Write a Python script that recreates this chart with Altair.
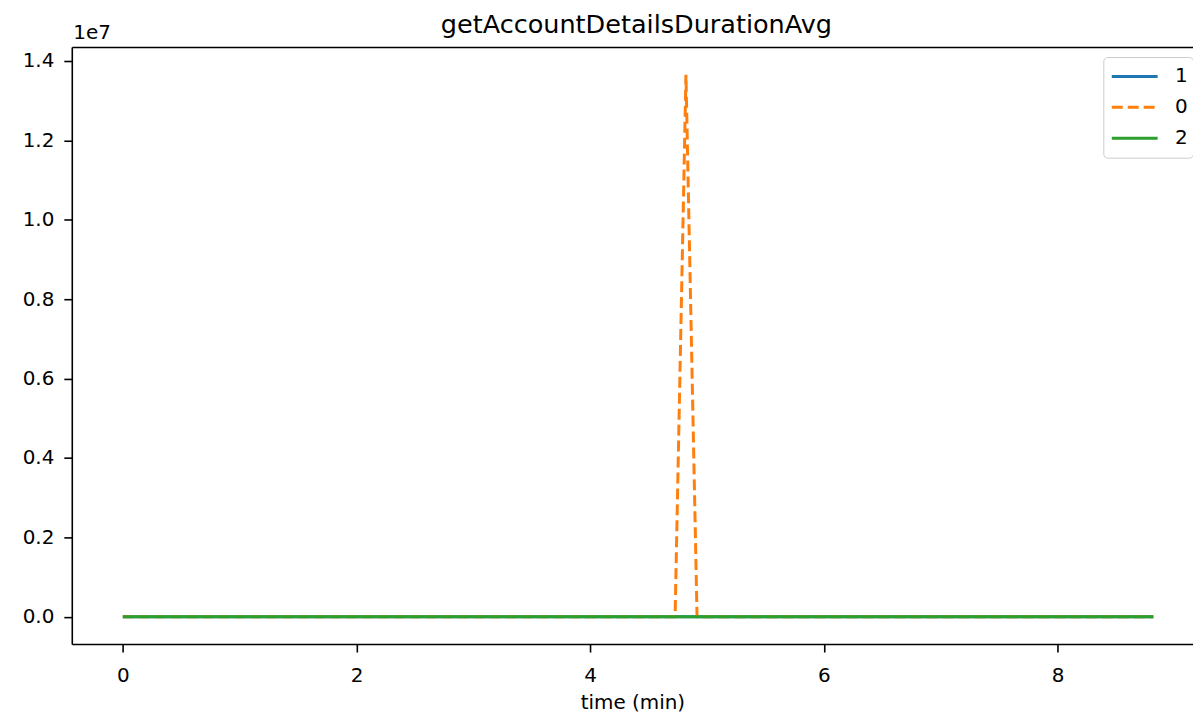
import altair as alt
import pandas as pd

# Series data (time in minutes, value)
series_order = ["1", "0", "2"]
t_s1 = [0.0, 8.82]
v_s1 = [0.0, 0.0]
t_s0 = [0.0, 4.727, 4.82, 4.915, 8.82]
v_s0 = [0.0, 0.0, 1.365e7, 0.0, 0.0]
t_s2 = [0.0, 8.82]
v_s2 = [0.0, 0.0]

x_ticks = [0, 2, 4, 6, 8]
y_ticks = [0, 0.2e7, 0.4e7, 0.6e7, 0.8e7, 1.0e7, 1.2e7, 1.4e7]

rows = []
for name, ts, vs in [("1", t_s1, v_s1), ("0", t_s0, v_s0), ("2", t_s2, v_s2)]:
    for i, (t, v) in enumerate(zip(ts, vs)):
        rows.append({"series": name, "time": t, "value": v, "idx": i})
df = pd.DataFrame(rows)

FONT = "DejaVu Sans"
x_scale = alt.Scale(domain=[-0.437, 9.16], nice=False, zero=False)
y_scale = alt.Scale(domain=[-0.685e6, 1.435e7], nice=False, zero=False)

y_axis = alt.Axis(values=y_ticks, title="1e7",
                  labelExpr="format(datum.value / 1e7, '.1f')",
                  grid=False, tickSize=8, tickWidth=1.6, domainWidth=1.6,
                  domainColor="black", tickColor="black",
                  labelFontSize=20, labelPadding=10, labelFont=FONT,
                  labelColor="black", titleColor="black",
                  titleFont=FONT, titleFontSize=20, titleFontWeight="normal",
                  titleAngle=0, titleX=1, titleY=-9, titleAlign="left",
                  titleBaseline="alphabetic")

legend_kw = dict(title=None, orient="none", legendX=1035, legendY=10,
                 symbolType="stroke", symbolSize=2116, symbolStrokeWidth=3,
                 symbolOffset=2, labelFontSize=20, labelFont=FONT,
                 labelColor="black", labelOffset=16, padding=5, cornerRadius=4,
                 strokeColor="#cccccc", fillColor="white", rowPadding=2,
                 clipHeight=29)

lines = alt.Chart(df).mark_line(strokeWidth=3, strokeCap="butt").encode(
    x=alt.X("time:Q", scale=x_scale,
            axis=alt.Axis(values=x_ticks, title="time (min)", format="d",
                          grid=False, tickSize=8, tickWidth=1.6, domainWidth=1.6,
                          domainColor="black", tickColor="black",
                          labelFontSize=20, titleFontSize=20, labelPadding=14,
                          titlePadding=7, labelFont=FONT, titleFont=FONT,
                          titleFontWeight="normal", labelColor="black",
                          titleColor="black")),
    y=alt.Y("value:Q", scale=y_scale, axis=y_axis),
    color=alt.Color("series:N",
                    scale=alt.Scale(domain=series_order,
                                    range=["#1f77b4", "#ff7f0e", "#2ca02c"]),
                    legend=alt.Legend(**legend_kw)),
    strokeDash=alt.StrokeDash("series:N",
                              scale=alt.Scale(domain=series_order,
                                              range=[[1, 0], [11, 5], [1, 0]]),
                              legend=alt.Legend(**legend_kw)),
    detail="series:N",
    order="idx:Q",
)

top_spine = alt.Chart(df).mark_point(opacity=0).encode(
    x=alt.X("time:Q", scale=x_scale,
            axis=alt.Axis(orient="top", labels=False, ticks=False, title=None,
                          grid=False, domainColor="black", domainWidth=1.6)),
    y=alt.Y("value:Q", scale=y_scale, axis=y_axis),
)

chart = alt.layer(lines, top_spine).resolve_axis(x="independent").properties(
    width=1125,
    height=599,
    padding={"left": 64, "top": 38, "right": 0, "bottom": 68},
    autosize=alt.AutoSizeParams(type="none"),
    title=alt.TitleParams("getAccountDetailsDurationAvg", fontSize=25.6, font=FONT,
                          fontWeight="normal", color="black", offset=-16, dx=4),
).configure_view(stroke=None)

chart.save("out.html", embed_options={"renderer": "svg", "actions": False})
